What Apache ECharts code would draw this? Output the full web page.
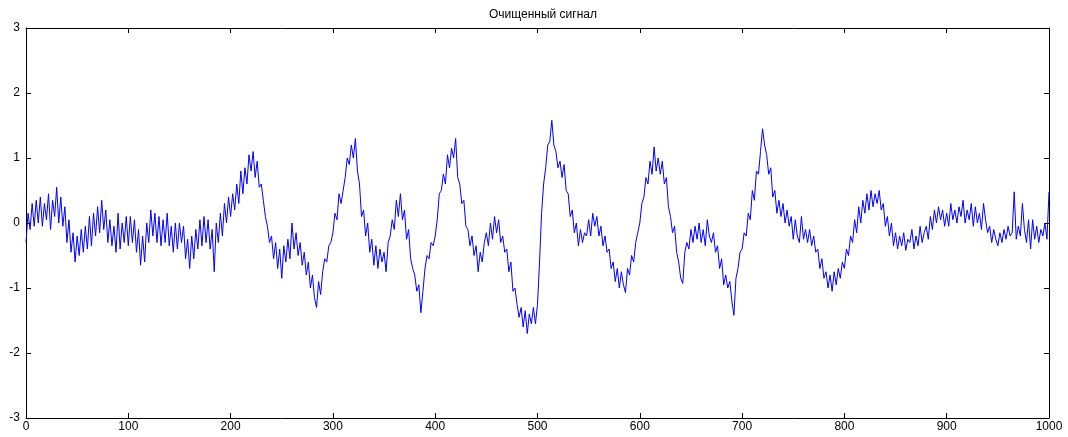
<!DOCTYPE html>
<html>
<head>
<meta charset="utf-8">
<script src="https://cdn.jsdelivr.net/npm/echarts@6/dist/echarts.min.js"></script>
<style>
html,body{margin:0;padding:0;background:#fff;}
#chart{width:1068px;height:437px;}
</style>
</head>
<body>
<div id="chart"></div>
<script>
const chartTitle = "Очищенный сигнал";
const sampleStep = 2;
const xRange = [0, 1000];
const yRange = [-3, 3];
const signal = [
-0.3, 0.15, -0.1, 0.3, -0.05, 0.35, 0.0, 0.4, -0.05, 0.3, 0.05, 0.45, -0.1, 0.35, 0.1, 0.55, 0.0, 0.4, -0.05, 0.25, -0.3, 0.05, -0.45, -0.15, -0.6,
-0.2, -0.5, -0.1, -0.45, -0.05, -0.4, 0.1, -0.35, 0.15, -0.2, 0.25, -0.15, 0.35, -0.1, 0.2, -0.3, 0.05, -0.35, -0.05, -0.45, 0.15, -0.4, 0.0, -0.3, 0.1,
-0.35, 0.1, -0.3, 0.05, -0.45, -0.1, -0.65, -0.2, -0.6, 0.0, -0.3, 0.2, -0.2, 0.15, -0.3, 0.1, -0.35, 0.05, -0.3, 0.15, -0.35, -0.05, -0.45, 0.0, -0.4,
0.0, -0.3, -0.05, -0.55, -0.25, -0.7, -0.2, -0.55, -0.1, -0.4, 0.05, -0.35, 0.1, -0.3, 0.05, -0.4, -0.1, -0.75, 0.0, -0.3, 0.15, -0.2, 0.3, 0.0, 0.4,
0.1, 0.45, 0.2, 0.6, 0.3, 0.8, 0.45, 0.85, 0.6, 1.05, 0.8, 1.1, 0.7, 0.95, 0.55, 0.6, 0.35, 0.1, -0.05, -0.3, -0.2, -0.55, -0.3, -0.7, -0.4,
-0.85, -0.35, -0.6, -0.25, -0.55, 0.0, -0.4, -0.15, -0.5, -0.3, -0.65, -0.45, -0.8, -0.6, -1.0, -0.8, -1.15, -1.3, -0.9, -1.1, -0.75, -0.55, -0.6, -0.35, -0.3,
-0.15, 0.15, 0.05, 0.45, 0.3, 0.5, 0.7, 1.0, 0.9, 1.2, 1.0, 1.3, 0.8, 0.6, 0.1, 0.2, -0.2, 0.0, -0.45, -0.25, -0.65, -0.35, -0.7, -0.4, -0.6,
-0.45, -0.75, -0.3, -0.2, 0.05, -0.1, 0.35, 0.1, 0.45, 0.05, 0.2, -0.25, -0.1, -0.55, -0.7, -0.8, -1.05, -0.95, -1.38, -1.05, -0.7, -0.5, -0.55, -0.3, -0.35,
-0.2, 0.05, 0.45, 0.5, 0.75, 0.6, 1.05, 0.85, 1.15, 1.0, 1.3, 0.7, 0.6, 0.3, 0.35, -0.05, -0.1, -0.35, -0.2, -0.5, -0.35, -0.75, -0.45, -0.6, -0.3,
-0.15, -0.35, 0.0, -0.25, 0.1, -0.15, 0.05, -0.3, -0.2, -0.45, -0.4, -0.75, -0.6, -1.05, -1.0, -1.25, -1.45, -1.3, -1.6, -1.35, -1.7, -1.4, -1.55, -1.3, -1.55,
-1.25, -0.6, 0.15, 0.6, 0.85, 1.2, 1.25, 1.58, 1.2, 1.1, 0.85, 0.95, 0.7, 0.9, 0.5, 0.45, 0.1, 0.2, -0.15, 0.0, -0.35, -0.1, -0.3, -0.15, -0.2,
0.05, -0.2, 0.15, -0.05, 0.1, -0.2, -0.05, -0.35, -0.2, -0.45, -0.4, -0.7, -0.6, -0.9, -0.7, -1.0, -0.75, -0.95, -1.07, -0.7, -0.8, -0.5, -0.6, -0.3, -0.15,
0.0, 0.3, 0.4, 0.7, 0.6, 0.95, 0.75, 1.17, 0.8, 1.0, 0.75, 0.95, 0.6, 0.7, 0.25, 0.1, -0.15, -0.05, -0.45, -0.6, -0.85, -0.93, -0.45, -0.3, -0.4,
-0.1, -0.3, -0.05, -0.25, 0.0, -0.3, -0.1, -0.35, 0.05, -0.2, -0.3, -0.15, -0.45, -0.35, -0.7, -0.55, -0.95, -0.8, -1.0, -0.9, -1.2, -1.42, -0.85, -0.7, -0.45,
-0.4, -0.15, -0.2, 0.15, 0.05, 0.5, 0.35, 0.8, 0.75, 1.1, 1.45, 1.2, 1.05, 0.75, 0.85, 0.4, 0.5, 0.15, 0.35, 0.1, 0.3, 0.0, 0.2, -0.05, 0.1,
-0.25, 0.05, -0.2, -0.3, 0.1, -0.25, -0.1, -0.3, -0.1, -0.35, -0.2, -0.45, -0.4, -0.7, -0.55, -0.85, -0.75, -1.0, -0.8, -1.05, -0.75, -0.95, -0.7, -0.85, -0.6,
-0.7, -0.4, -0.5, -0.2, -0.3, 0.05, -0.15, 0.25, 0.0, 0.35, 0.15, 0.45, 0.2, 0.5, 0.25, 0.45, 0.3, 0.5, 0.2, 0.3, -0.05, 0.1, -0.2, 0.0, -0.35,
-0.15, -0.4, -0.2, -0.35, -0.15, -0.42, -0.25, -0.3, -0.1, -0.4, -0.2, -0.35, -0.05, -0.3, -0.15, -0.05, -0.25, 0.1, -0.1, 0.2, 0.0, 0.25, 0.05, 0.2, -0.05,
0.15, -0.05, 0.3, 0.05, 0.2, 0.0, 0.25, 0.1, 0.35, 0.0, 0.2, 0.05, 0.3, -0.05, 0.25, 0.0, 0.15, -0.1, 0.3, 0.05, -0.15, -0.05, -0.3, -0.1, -0.25,
-0.35, -0.15, -0.3, -0.1, -0.25, -0.05, -0.2, -0.15, 0.48, -0.25, -0.05, -0.2, 0.3, -0.1, -0.3, 0.05, -0.4, 0.05, -0.25, -0.05, -0.3, -0.1, -0.2, 0.0, -0.25,
0.48
];

const points = signal.map((v, i) => [i * sampleStep, v]);
const font = '"Liberation Sans", Arial, sans-serif';
const chart = echarts.init(document.getElementById('chart'), null, {renderer: 'canvas'});

const axisLineStyle = {show: true, onZero: false, lineStyle: {color: '#000', width: 1}};
const tickStyle = {show: true, inside: true, length: 5, lineStyle: {color: '#000', width: 1}};
const plainNum = v => String(v);

chart.setOption({
  animation: false,
  backgroundColor: '#fff',
  title: {
    text: chartTitle,
    left: 538, top: 4, textAlign: 'center',
    textStyle: {fontFamily: font, fontSize: 12, fontWeight: 'normal', color: '#000'}
  },
  grid: {left: 26, right: 19, top: 28, bottom: 19, containLabel: false},
  xAxis: [
    {type: 'value', min: xRange[0], max: xRange[1], interval: 100, position: 'bottom',
     axisLine: axisLineStyle, axisTick: tickStyle, splitLine: {show: false},
     axisLabel: {color: '#000', fontFamily: font, fontSize: 12, margin: 3, formatter: plainNum}},
    {type: 'value', min: xRange[0], max: xRange[1], interval: 100, position: 'top',
     axisLine: axisLineStyle, axisTick: tickStyle, splitLine: {show: false},
     axisLabel: {show: false}}
  ],
  yAxis: [
    {type: 'value', min: yRange[0], max: yRange[1], interval: 1, position: 'left',
     axisLine: axisLineStyle, axisTick: tickStyle, splitLine: {show: false},
     axisLabel: {color: '#000', fontFamily: font, fontSize: 12, margin: 6, formatter: plainNum}},
    {type: 'value', min: yRange[0], max: yRange[1], interval: 1, position: 'right',
     axisLine: axisLineStyle, axisTick: tickStyle, splitLine: {show: false},
     axisLabel: {show: false}}
  ],
  series: [{
    type: 'line',
    data: points,
    xAxisIndex: 0, yAxisIndex: 0,
    showSymbol: false,
    symbol: 'none',
    lineStyle: {color: '#0000ff', width: 1},
    itemStyle: {color: '#0000ff'}
  }]
});
</script>
</body>
</html>
